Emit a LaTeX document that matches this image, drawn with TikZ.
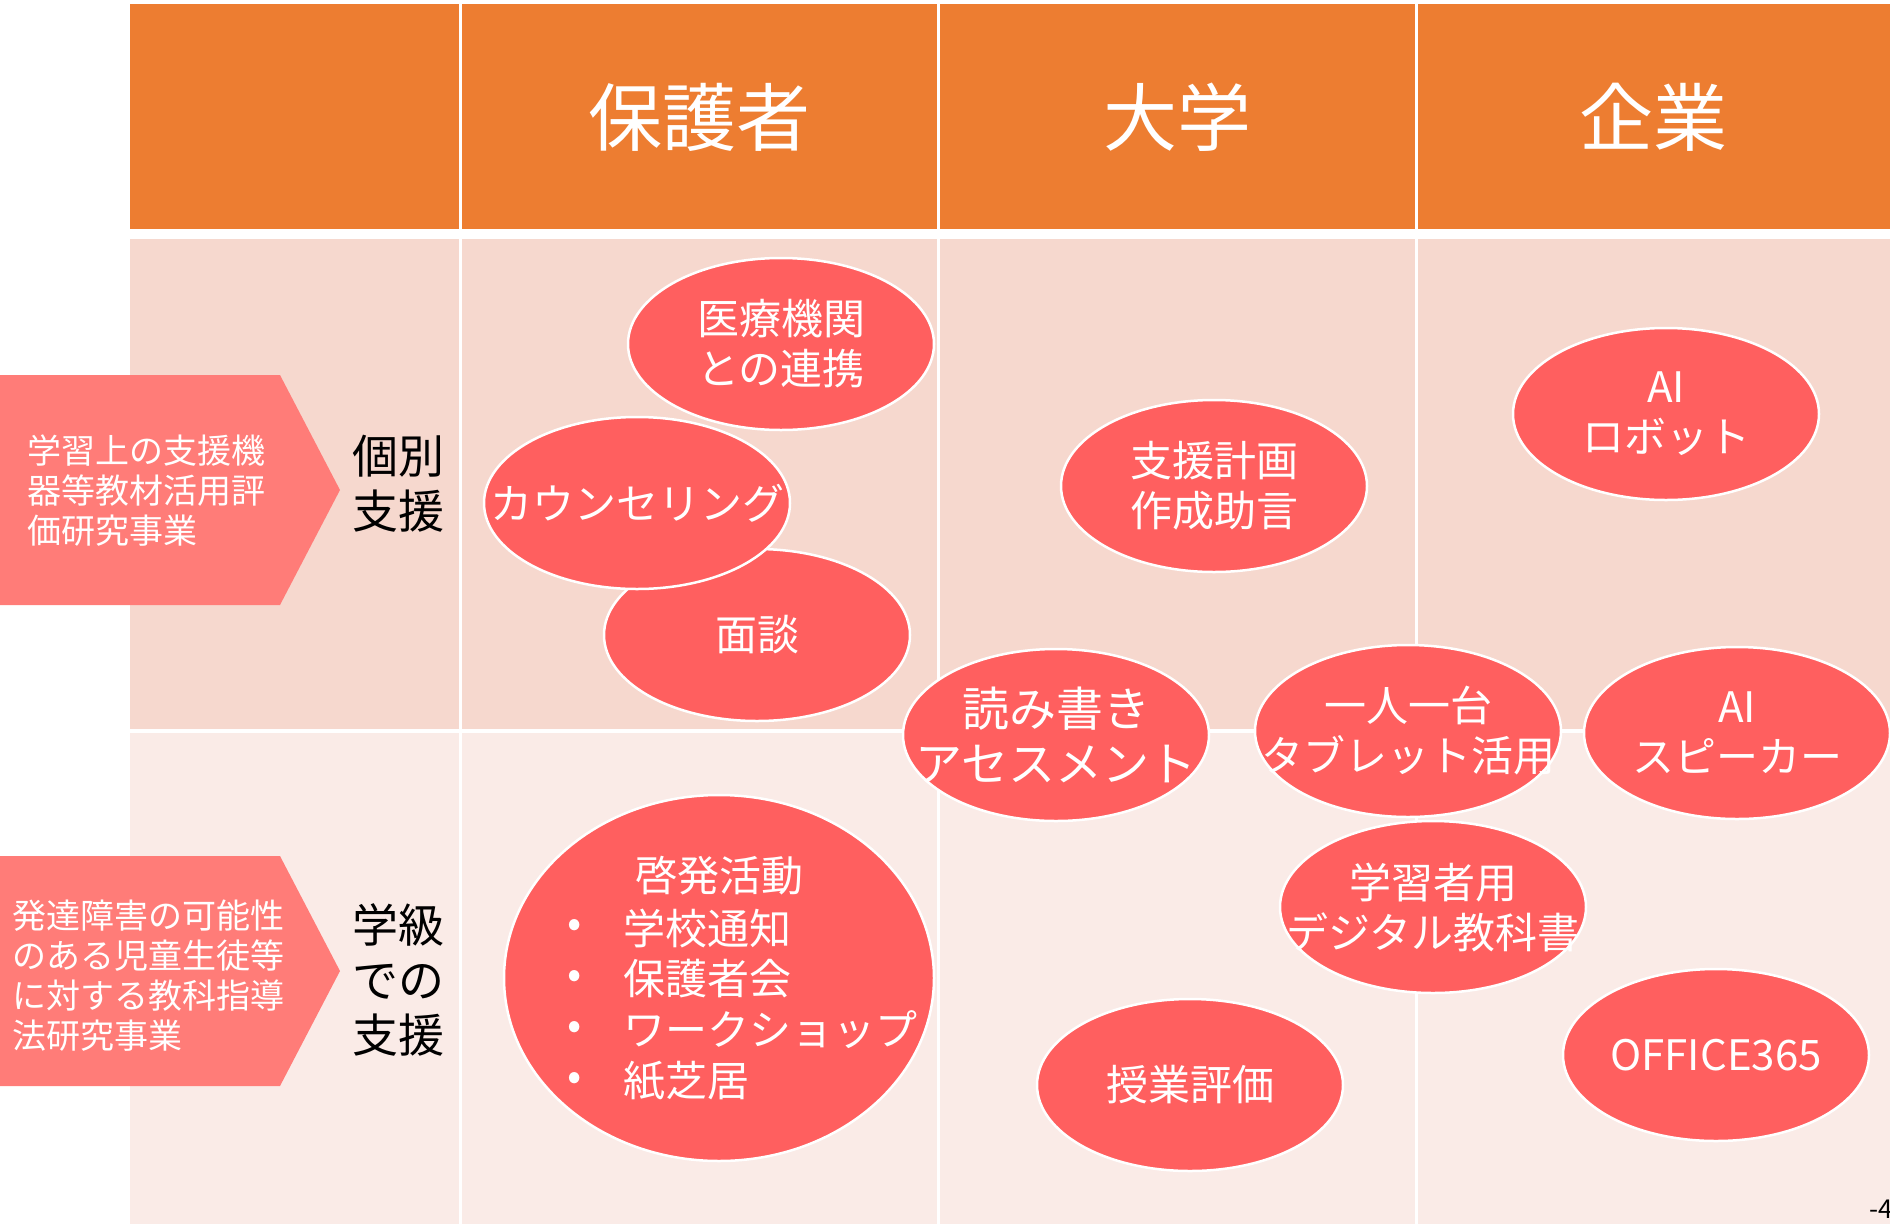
\documentclass[tikz,border=0pt]{standalone}
\usepackage{fontspec}
\setmainfont{Noto Sans CJK JP}
\usetikzlibrary{shapes.geometric}

\definecolor{hdorange}{RGB}{237,125,49}
\definecolor{bandone}{RGB}{246,216,206}
\definecolor{bandtwo}{RGB}{250,235,231}
\definecolor{armred}{RGB}{255,124,120}
\definecolor{bubred}{RGB}{255,95,95}

\tikzset{
  bubble/.style={ellipse, fill=bubred, draw=white, line width=2.5pt,
    minimum width=306pt, minimum height=172pt, inner sep=0pt},
  bubtext/.style={text=white, align=center, inner sep=0pt,
    font=\fontsize{42}{50}\selectfont},
  headtext/.style={text=white, font=\fontsize{74}{80}\selectfont},
  rowtext/.style={align=center, font=\fontsize{46}{55}\selectfont},
  armtext/.style={text=white, align=left, anchor=west, inner sep=0pt,
    font=\fontsize{34}{40}\selectfont},
  arm/.style={fill=armred},
  gridline/.style={white, line width=3pt}
}

\begin{document}
\begin{tikzpicture}[x=1pt, y=-1pt]
\useasboundingbox (0,0) rectangle (1890,1224);
% table
\fill[hdorange] (130,4) rectangle (1890,229);
\fill[bandone] (130,239) rectangle (1890,729);
\fill[bandtwo] (130,733) rectangle (1890,1224);
\foreach \x in {460,938,1416}
  \draw[gridline] (\x,4) -- (\x,1224);
% header
\node[headtext] (parents) at (699,117) {保護者};
\node[headtext] (univ) at (1177,117) {大学};
\node[headtext] (company) at (1653,117) {企業};
% arrows at the left
\fill[arm] (0,375) -- (280,375) -- (340,490) -- (280,605) -- (0,605) -- cycle;
\fill[arm] (0,856) -- (280,856) -- (340,971) -- (280,1086) -- (0,1086) -- cycle;
\node[armtext] (proj1) at (27,491) {学習上の支援機\\器等教材活用評\\価研究事業};
\node[armtext] (proj2) at (12,976) {発達障害の可能性\\のある児童生徒等\\に対する教科指導\\法研究事業};
% row labels
\node[rowtext] (indiv) at (398,484) {個別\\支援};
\node[rowtext] (cls) at (398,980) {学級\\での\\支援};
% parents
\node[bubble] (med) at (781,344) {};
\node[bubtext] (med-t) at (med) {医療機関\\との連携};
\node[bubble] (talk) at (757,635) {};
\node[bubtext] (talk-t) at (talk) {面談};
\node[bubble] (couns) at (637,503) {};
\node[bubtext] (couns-t) at (couns) {カウンセリング};
% university
\node[bubble] (plan) at (1214,486) {};
\node[bubtext] (plan-t) at (plan) {支援計画\\作成助言};
\node[bubble] (read) at (1056,735) {};
\node[bubtext, font=\fontsize{47}{55}\selectfont] (read-t) at (read) {読み書き\\アセスメント};
\node[bubble] (eval) at (1190,1085) {};
\node[bubtext] (eval-t) at (eval) {授業評価};
% company
\node[bubble] (robot) at (1666,414) {};
\node[bubtext] (robot-t) at (robot) {AI\\ロボット};
\node[bubble] (tablet) at (1408,731) {};
\node[bubtext] (tablet-t) at (tablet) {一人一台\\タブレット活用};
\node[bubble] (speaker) at (1737,733) {};
\node[bubtext] (speaker-t) at (speaker) {AI\\スピーカー};
\node[bubble] (dtext) at (1433,907) {};
\node[bubtext] (dtext-t) at (dtext) {学習者用\\デジタル教科書};
\node[bubble] (office) at (1716,1055) {};
\node[bubtext] (office-t) at (office) {OFFICE365};
% class activities
\node[bubble, minimum width=430pt, minimum height=366pt] (aware) at (719,978) {};
\node[bubtext] (aware-t) at (719,876) {啓発活動};
\foreach \item [count=\i] in {学校通知,保護者会,ワークショップ,紙芝居}{
  \node[bubtext] (dot\i) at (575,877+51*\i) {•};
  \node[bubtext, anchor=west] (item\i) at (623,877+51*\i) {\item};
}
\node[anchor=north west, inner sep=0pt, font=\fontsize{26}{30}\selectfont] (pageno) at (1869,1200) {-4-};
\end{tikzpicture}
\end{document}
